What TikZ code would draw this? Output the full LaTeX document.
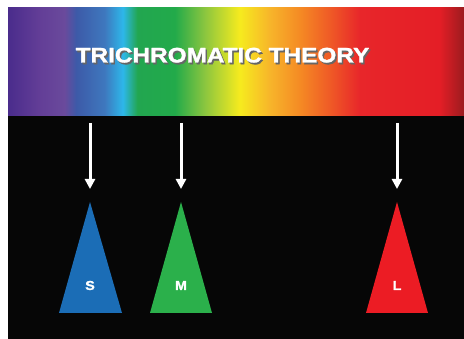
\documentclass[tikz,border=0pt]{standalone}
\usepackage{fontspec}
\setmainfont{Liberation Sans}
\usetikzlibrary{arrows.meta}
\definecolor{sblue}{HTML}{1B6DB6}
\definecolor{mgreen}{HTML}{2BB04B}
\definecolor{lred}{HTML}{EC1C24}
\definecolor{bgblack}{HTML}{060606}
\pgfdeclarehorizontalshading{spectrum}{100bp}{%
color(0bp)=(rgb,255:red,74;green,44;blue,140);
color(25bp)=(rgb,255:red,74;green,44;blue,140);
color(28.5bp)=(rgb,255:red,99;green,62;blue,151);
color(31.2bp)=(rgb,255:red,106;green,74;blue,156);
color(32.5bp)=(rgb,255:red,61;green,90;blue,168);
color(35.6bp)=(rgb,255:red,62;green,120;blue,190);
color(37.6bp)=(rgb,255:red,45;green,183;blue,234);
color(39.2bp)=(rgb,255:red,34;green,166;blue,80);
color(43.3bp)=(rgb,255:red,34;green,170;blue,74);
color(46.6bp)=(rgb,255:red,140;green,198;blue,63);
color(50.4bp)=(rgb,255:red,246;green,235;blue,30);
color(53.7bp)=(rgb,255:red,247;green,181;blue,42);
color(57bp)=(rgb,255:red,245;green,138;blue,36);
color(60.3bp)=(rgb,255:red,239;green,90;blue,38);
color(63.6bp)=(rgb,255:red,232;green,38;blue,42);
color(72.3bp)=(rgb,255:red,228;green,30;blue,38);
color(75bp)=(rgb,255:red,155;green,27;blue,31);
color(100bp)=(rgb,255:red,155;green,27;blue,31)}
\tikzset{
  arrowline/.style={draw=white, line width=3pt, -{Triangle[width=10pt,length=10pt]}},
  conelabel/.style={text=white, font=\fontsize{13}{13}\selectfont\bfseries\addfontfeature{FakeStretch=1.1,FakeBold=1.5}, inner sep=0pt},
  titlefont/.style={font=\fontsize{21}{21}\selectfont\bfseries\addfontfeature{FakeStretch=1.16,FakeBold=1.5}, inner sep=0pt},
}
\begin{document}
\begin{tikzpicture}[x=1pt,y=-1pt]
\useasboundingbox (0,0) rectangle (464,339);
\fill[white] (0,0) rectangle (464,339);
\fill[bgblack] (8,8) rectangle (464,339);
\shade[shading=spectrum] (8,8) rectangle (464,116);
% title with drop shadow
\node[titlefont, text=black!60] (titleshadow) at (224,57) {TRICHROMATIC THEORY};
\node[titlefont, text=white] (title) at (222.5,55.2) {TRICHROMATIC THEORY};
% arrow ends
\coordinate (sa) at (90,123); \coordinate (sb) at (90,189);
\coordinate (ma) at (181,123); \coordinate (mb) at (181,189);
\coordinate (la) at (397,123); \coordinate (lb) at (397,189);
\draw[arrowline] (sa) -- (sb);
\draw[arrowline] (ma) -- (mb);
\draw[arrowline] (la) -- (lb);
% cones
\fill[sblue] (90,202) -- (122,313) -- (59,313) -- cycle;
\fill[mgreen] (181,202) -- (212,313) -- (150,313) -- cycle;
\fill[lred] (397,202) -- (428,313) -- (366,313) -- cycle;
\node[conelabel] (S) at (90,285.5) {S};
\node[conelabel] (M) at (181,285.5) {M};
\node[conelabel] (L) at (397,285.5) {L};
\end{tikzpicture}
\end{document}
